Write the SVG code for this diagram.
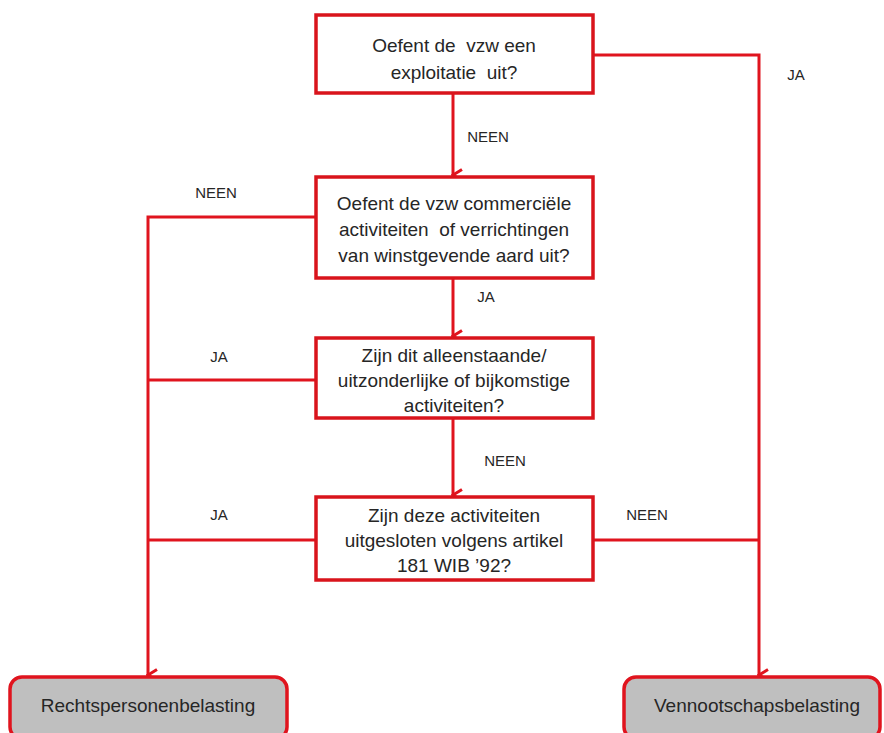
<svg xmlns="http://www.w3.org/2000/svg" width="884" height="733" viewBox="0 0 884 733">
<defs>
<marker id="arr" markerWidth="14" markerHeight="14" refX="7" refY="12" orient="auto-start-reverse" markerUnits="userSpaceOnUse" viewBox="0 0 14 14">
<path d="M1.5,3 L7,12 L12.5,3" fill="none" stroke="#e0141e" stroke-width="3"/>
</marker>
<style>
.box{fill:#ffffff;stroke:#d9141c;stroke-width:3.5}
.end{fill:#bfbfbf;stroke:#e0141e;stroke-width:3.5}
.ln{fill:none;stroke:#e0141e;stroke-width:3}
.t{font-family:"Liberation Sans",Arial,sans-serif;font-size:19px;fill:#262626;text-anchor:middle;white-space:pre}
.lbl{font-family:"Liberation Sans",Arial,sans-serif;font-size:15px;fill:#262626;text-anchor:middle}
</style>
</defs>
<rect width="884" height="733" fill="#ffffff"/>
<g id="connectors">
<path class="ln" d="M453,93 V175" marker-end="url(#arr)"/>
<path class="ln" d="M593,55 H759 V675" marker-end="url(#arr)"/>
<path class="ln" d="M316,217 H148 V675" marker-end="url(#arr)"/>
<path class="ln" d="M453,278 V336" marker-end="url(#arr)"/>
<path class="ln" d="M316,380 H148"/>
<path class="ln" d="M453,418 V495" marker-end="url(#arr)"/>
<path class="ln" d="M316,540 H148"/>
<path class="ln" d="M593,540 H759"/>
<text class="lbl" x="488" y="142">NEEN</text>
<text class="lbl" x="796" y="80">JA</text>
<text class="lbl" x="216" y="198">NEEN</text>
<text class="lbl" x="486" y="302">JA</text>
<text class="lbl" x="219" y="362">JA</text>
<text class="lbl" x="505" y="466">NEEN</text>
<text class="lbl" x="219" y="520">JA</text>
<text class="lbl" x="647" y="520">NEEN</text>
</g>
<g id="n1">
<rect class="box" x="316" y="15" width="277" height="78"/>
<text class="t" x="454" y="52" xml:space="preserve">Oefent de  vzw een</text>
<text class="t" x="454" y="79" xml:space="preserve">exploitatie  uit?</text>
</g>
<g id="n2">
<rect class="box" x="316" y="177" width="277" height="101"/>
<text class="t" x="454" y="210">Oefent de vzw commerciële</text>
<text class="t" x="454" y="236" xml:space="preserve">activiteiten  of verrichtingen</text>
<text class="t" x="454" y="262">van winstgevende aard uit?</text>
</g>
<g id="n3">
<rect class="box" x="316" y="338" width="277" height="80"/>
<text class="t" x="454" y="362">Zijn dit alleenstaande/</text>
<text class="t" x="454" y="387">uitzonderlijke of bijkomstige</text>
<text class="t" x="454" y="412">activiteiten?</text>
</g>
<g id="n4">
<rect class="box" x="316" y="497" width="277" height="83"/>
<text class="t" x="454" y="522">Zijn deze activiteiten</text>
<text class="t" x="454" y="547">uitgesloten volgens artikel</text>
<text class="t" x="454" y="572">181 WIB ’92?</text>
</g>
<g id="n5">
<rect class="end" x="10" y="677" width="277" height="62" rx="12"/>
<text class="t" x="148" y="712">Rechtspersonenbelasting</text>
</g>
<g id="n6">
<rect class="end" x="624" y="677" width="256" height="62" rx="12"/>
<text class="t" x="757" y="712">Vennootschapsbelasting</text>
</g>
</svg>
